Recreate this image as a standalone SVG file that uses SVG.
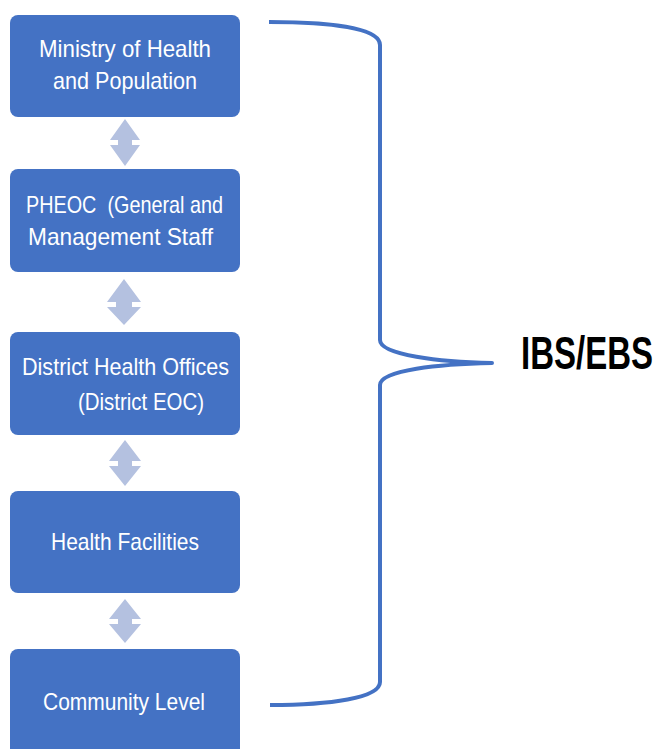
<svg xmlns="http://www.w3.org/2000/svg" width="660" height="749" viewBox="0 0 660 749">
  <style>
    .box { fill: #4472C4; }
    .lbl { font-family: "Liberation Sans", Arial, sans-serif; font-size: 24px; fill: #FFFFFF; }
    .arrow { fill: #B4C1E0; }
    .brace { fill: none; stroke: #4472C4; stroke-width: 4; stroke-linecap: butt; stroke-linejoin: round; }
    .big { font-family: "Liberation Sans", Arial, sans-serif; font-weight: bold; font-size: 46px; fill: #000000; }
  </style>
  <rect width="660" height="749" fill="#FFFFFF"/>

  <g id="connectors">
    <!-- double-headed arrows between levels -->
    <path class="arrow" d="M125,119 L140,140 L132,140 L132,145 L140,145 L125,166 L110,145 L118,145 L118,140 L110,140 Z"/>
    <path class="arrow" d="M124,279 L141,302 L132,302 L132,307 L141,307 L124,325 L107,307 L116,307 L116,302 L107,302 Z"/>
    <path class="arrow" d="M125,440 L141,461 L132,461 L132,466 L141,466 L125,486 L109,466 L118,466 L118,461 L109,461 Z"/>
    <path class="arrow" d="M125,599 L141,619 L132,619 L132,624 L141,624 L125,643 L109,624 L118,624 L118,619 L109,619 Z"/>
    <!-- curly brace grouping all levels -->
    <path class="brace" d="M269,22 C330,22 380,28 380,45 L380,340 C380,355 440,362 492,363 C440,364 380,370 380,385 L380,682 C380,698 330,705 270,705"/>
  </g>

  <g id="ministry">
    <rect class="box" x="10" y="15" width="230" height="102" rx="8"/>
    <text class="lbl" x="39" y="57" textLength="172" lengthAdjust="spacingAndGlyphs">Ministry of Health</text>
    <text class="lbl" x="53" y="89" textLength="144" lengthAdjust="spacingAndGlyphs">and Population</text>
  </g>

  <g id="pheoc">
    <rect class="box" x="10" y="169" width="230" height="103" rx="8"/>
    <text class="lbl" x="26" y="213" textLength="197" lengthAdjust="spacingAndGlyphs" style="white-space: pre">PHEOC  (General and</text>
    <text class="lbl" x="28" y="245" textLength="185" lengthAdjust="spacingAndGlyphs">Management Staff</text>
  </g>

  <g id="district">
    <rect class="box" x="10" y="332" width="230" height="103" rx="8"/>
    <text class="lbl" x="22" y="375" textLength="207" lengthAdjust="spacingAndGlyphs">District Health Offices</text>
    <text class="lbl" x="78" y="410" textLength="126" lengthAdjust="spacingAndGlyphs">(District EOC)</text>
  </g>

  <g id="facilities">
    <rect class="box" x="10" y="491" width="230" height="102" rx="8"/>
    <text class="lbl" x="51" y="550" textLength="148" lengthAdjust="spacingAndGlyphs">Health Facilities</text>
  </g>

  <g id="community">
    <rect class="box" x="10" y="649" width="230" height="108" rx="8"/>
    <text class="lbl" x="43" y="710" textLength="162" lengthAdjust="spacingAndGlyphs">Community Level</text>
  </g>

  <g id="ibs-ebs">
    <!-- condensed bold label, narrowed horizontally -->
    <text class="big" transform="translate(521,369) scale(0.717,1)" x="0" y="0">IBS/EBS</text>
  </g>
</svg>
